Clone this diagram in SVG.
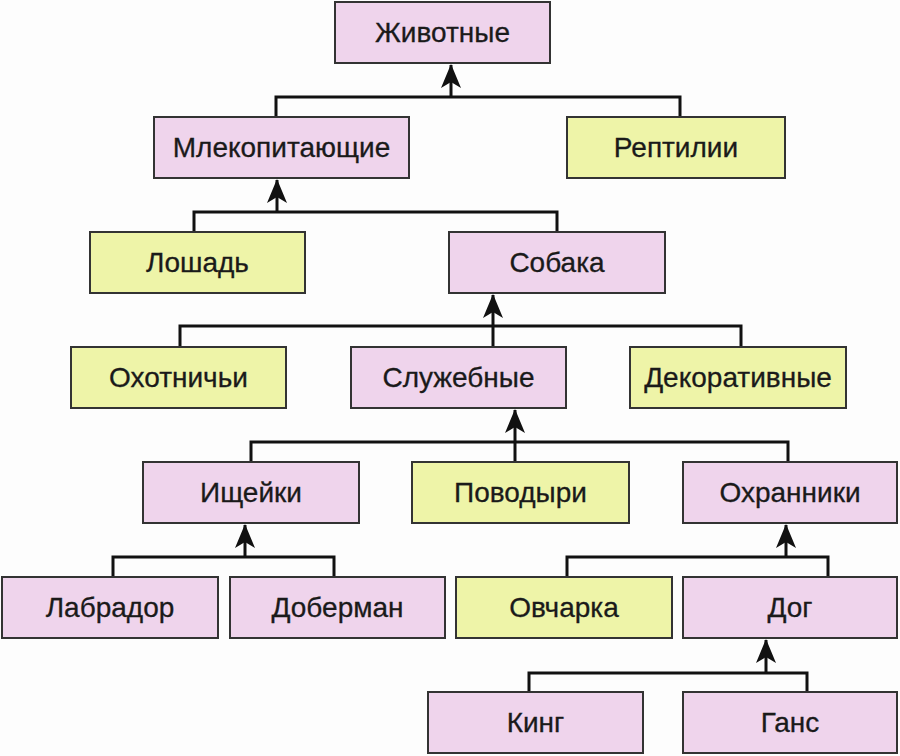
<svg xmlns="http://www.w3.org/2000/svg" width="900" height="756" viewBox="0 0 900 756">
<defs>
<style>
.bg{fill:#fdfdfd}
.p{fill:#efd4ec;stroke:#333;stroke-width:2}
.g{fill:#eef4a8;stroke:#333;stroke-width:2}
.t{font-family:"Liberation Sans",Arial,sans-serif;font-size:28px;fill:#1a1a1a;stroke:#1a1a1a;stroke-width:0.3;text-anchor:middle}
.c{fill:none;stroke:#111;stroke-width:3}
</style>
<marker id="ah" viewBox="0 0 24 20" refX="23" refY="10" markerWidth="24" markerHeight="20" markerUnits="userSpaceOnUse" orient="auto">
<path d="M0,0 L24,10 L0,20 L6,10 z" fill="#111"/>
</marker>
</defs>
<rect class="bg" x="0" y="0" width="900" height="756"/>
<g id="connectors">
<path class="c" d="M276,117 V97 H680 V117"/>
<line class="c" x1="451" y1="97" x2="451" y2="65" marker-end="url(#ah)"/>
<path class="c" d="M194,232 V212 H557 V232"/>
<line class="c" x1="277" y1="212" x2="277" y2="180" marker-end="url(#ah)"/>
<path class="c" d="M180,347 V326 H741 V347"/>
<line class="c" x1="493" y1="347" x2="493" y2="295" marker-end="url(#ah)"/>
<path class="c" d="M251,462 V442 H788 V462"/>
<line class="c" x1="515" y1="462" x2="515" y2="410" marker-end="url(#ah)"/>
<path class="c" d="M113,577 V557 H334 V577"/>
<line class="c" x1="245" y1="557" x2="245" y2="525" marker-end="url(#ah)"/>
<path class="c" d="M567,577 V557 H828 V577"/>
<line class="c" x1="786" y1="557" x2="786" y2="525" marker-end="url(#ah)"/>
<path class="c" d="M529,692 V673 H807 V692"/>
<line class="c" x1="766" y1="673" x2="766" y2="640" marker-end="url(#ah)"/>
</g>
<g id="zhivotnye"><rect class="p" x="335" y="2" width="215" height="61"/><text class="t" x="442.5" y="42">Животные</text></g>
<g id="mlekopitayushchie"><rect class="p" x="154" y="117" width="255" height="61"/><text class="t" x="281.5" y="157">Млекопитающие</text></g>
<g id="reptilii"><rect class="g" x="567" y="117" width="218" height="61"/><text class="t" x="676" y="157">Рептилии</text></g>
<g id="loshad"><rect class="g" x="90" y="232" width="215" height="61"/><text class="t" x="197.5" y="272">Лошадь</text></g>
<g id="sobaka"><rect class="p" x="449" y="232" width="216" height="61"/><text class="t" x="557" y="272">Собака</text></g>
<g id="okhotnichi"><rect class="g" x="71" y="347" width="215" height="61"/><text class="t" x="178.5" y="387">Охотничьи</text></g>
<g id="sluzhebnye"><rect class="p" x="351" y="347" width="215" height="61"/><text class="t" x="458.5" y="387">Служебные</text></g>
<g id="dekorativnye"><rect class="g" x="630" y="347" width="216" height="61"/><text class="t" x="738" y="387">Декоративные</text></g>
<g id="ishcheyki"><rect class="p" x="143" y="462" width="216" height="61"/><text class="t" x="251" y="502">Ищейки</text></g>
<g id="povodyri"><rect class="g" x="412" y="462" width="217" height="61"/><text class="t" x="520.5" y="502">Поводыри</text></g>
<g id="okhranniki"><rect class="p" x="683" y="462" width="214" height="61"/><text class="t" x="790" y="502">Охранники</text></g>
<g id="labrador"><rect class="p" x="2" y="577" width="216" height="61"/><text class="t" x="110" y="617">Лабрадор</text></g>
<g id="doberman"><rect class="p" x="230" y="577" width="215" height="61"/><text class="t" x="337.5" y="617">Доберман</text></g>
<g id="ovcharka"><rect class="g" x="456" y="577" width="216" height="61"/><text class="t" x="564" y="617">Овчарка</text></g>
<g id="dog"><rect class="p" x="683" y="577" width="214" height="61"/><text class="t" x="790" y="617">Дог</text></g>
<g id="king"><rect class="p" x="428" y="692" width="215" height="61"/><text class="t" x="535.5" y="732">Кинг</text></g>
<g id="gans"><rect class="p" x="683" y="692" width="214" height="61"/><text class="t" x="790" y="732">Ганс</text></g>
</svg>
